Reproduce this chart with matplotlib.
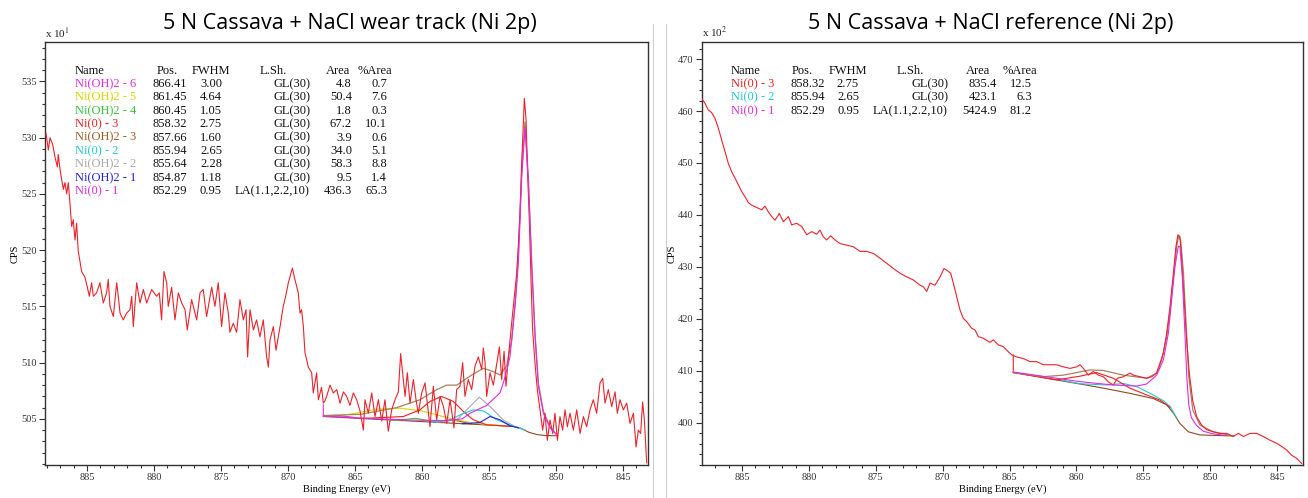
import numpy as np
import matplotlib
matplotlib.use("Agg")
import matplotlib.pyplot as plt
from matplotlib.ticker import MultipleLocator
from matplotlib.lines import Line2D

# ---------------------------------------------------------------------------
# Figure geometry (pixels of the reference picture)
# ---------------------------------------------------------------------------
FIG_W, FIG_H = 1308, 498

plt.rcParams["font.family"] = ["Liberation Serif", "DejaVu Serif"]
plt.rcParams["mathtext.fontset"] = "stix"

# ---------------------------------------------------------------------------
# Wear track spectrum: (binding energy eV, CPS x10)
# ---------------------------------------------------------------------------
WEAR_SPECTRUM = [
    (888.06, 530.4), (887.88, 528.9), (887.76, 530.0), (887.56, 529.4), (887.39, 528.3),
    (887.21, 527.4), (887.14, 528.5), (887.01, 527.2), (886.89, 526.3), (886.76, 525.4),
    (886.64, 526.0), (886.51, 525.0), (886.39, 526.0), (886.27, 524.2), (886.14, 522.1),
    (886.02, 522.7), (885.89, 520.9), (885.77, 522.4), (885.65, 519.9), (885.52, 519.0),
    (885.40, 518.1), (885.15, 517.6), (884.97, 516.7), (884.82, 515.9), (884.65, 517.1),
    (884.52, 515.9), (884.28, 516.2), (884.03, 517.1), (883.78, 515.3), (883.53, 516.2),
    (883.41, 517.4), (883.28, 515.0), (883.03, 514.1), (882.78, 517.1), (882.66, 515.9),
    (882.53, 514.4), (882.29, 513.8), (882.04, 514.4), (881.79, 514.7), (881.66, 515.9),
    (881.54, 513.2), (881.29, 517.1), (881.04, 515.3), (880.79, 516.5), (880.54, 515.3),
    (880.17, 516.5), (879.80, 515.9), (879.60, 516.2), (879.43, 513.8), (879.25, 518.1),
    (879.05, 517.1), (878.93, 515.0), (878.68, 516.7), (878.43, 513.8), (878.18, 516.2),
    (877.93, 515.3), (877.68, 514.7), (877.51, 512.9), (877.19, 515.6), (876.81, 513.8),
    (876.56, 516.2), (876.32, 516.5), (876.07, 514.1), (875.69, 516.7), (875.45, 515.0),
    (875.20, 517.1), (874.95, 513.2), (874.70, 516.2), (874.45, 514.4), (874.33, 512.7),
    (874.08, 513.5), (873.83, 512.7), (873.58, 515.6), (873.33, 513.8), (873.13, 514.7),
    (873.01, 510.5), (872.83, 514.7), (872.58, 512.9), (872.34, 513.8), (872.09, 512.3),
    (871.84, 513.8), (871.59, 510.5), (871.46, 509.6), (871.34, 512.0), (871.09, 513.2),
    (870.89, 511.1), (870.59, 513.2), (870.35, 515.0), (870.17, 515.9), (869.97, 517.1),
    (869.67, 518.4), (869.48, 517.4), (869.23, 516.2), (869.10, 514.4), (868.98, 514.7),
    (868.85, 513.2), (868.73, 510.9), (868.48, 509.6), (868.23, 509.1), (868.11, 507.3),
    (867.86, 509.1), (867.73, 506.7), (867.49, 507.8), (867.36, 506.4), (867.24, 506.6),
    (867.11, 507.0), (866.86, 508.0), (866.61, 507.3), (866.36, 507.6), (866.11, 506.4),
    (865.86, 507.4), (865.62, 507.0), (865.37, 506.2), (865.12, 507.3), (864.87, 506.7),
    (864.62, 505.7), (864.37, 504.0), (864.25, 506.7), (864.00, 505.5), (863.75, 507.3),
    (863.50, 505.2), (863.25, 506.7), (863.00, 504.8), (862.76, 506.7), (862.51, 503.9),
    (862.26, 505.8), (862.01, 506.7), (861.76, 507.4), (861.59, 510.8), (861.44, 509.1),
    (861.26, 507.0), (861.09, 509.1), (860.89, 506.4), (860.64, 508.5), (860.44, 506.7),
    (860.27, 505.5), (860.02, 507.3), (859.77, 508.2), (859.60, 506.4), (859.40, 504.3),
    (859.15, 507.9), (858.90, 504.9), (858.65, 507.0), (858.40, 506.1), (858.15, 504.6),
    (857.90, 506.7), (857.61, 504.2), (857.41, 507.6), (857.16, 507.9), (856.96, 510.0),
    (856.79, 507.0), (856.54, 508.5), (856.29, 507.6), (856.04, 509.7), (855.79, 510.5),
    (855.54, 509.4), (855.42, 511.3), (855.29, 510.0), (855.17, 507.0), (854.92, 509.1),
    (854.67, 508.0), (854.42, 509.9), (854.22, 511.4), (854.05, 508.5), (853.87, 511.0),
    (853.73, 507.9), (853.55, 510.5), (853.38, 512.6), (853.23, 514.4), (853.10, 515.9),
    (852.93, 517.9), (852.81, 520.3), (852.68, 523.3), (852.56, 527.7), (852.43, 531.3),
    (852.36, 533.5), (852.23, 531.6), (852.13, 527.4), (851.98, 522.4), (851.86, 517.4),
    (851.74, 512.9), (851.56, 509.9), (851.39, 507.6), (851.19, 505.8), (850.99, 504.0),
    (850.82, 505.5), (850.64, 503.1), (850.44, 504.9), (850.24, 503.7), (850.07, 505.5),
    (849.89, 503.1), (849.70, 505.2), (849.50, 504.0), (849.32, 505.8), (849.15, 504.3),
    (848.95, 505.5), (848.70, 504.0), (848.45, 505.8), (848.20, 503.7), (847.95, 505.2),
    (847.71, 504.3), (847.46, 505.8), (847.21, 506.7), (846.96, 505.5), (846.71, 508.2),
    (846.51, 508.6), (846.34, 506.4), (846.09, 507.6), (845.84, 506.1), (845.59, 507.4),
    (845.42, 505.5), (845.22, 506.7), (844.97, 505.8), (844.72, 506.4), (844.47, 504.6),
    (844.22, 505.5), (844.02, 502.5), (843.85, 504.0), (843.68, 503.7), (843.53, 506.5),
    (843.40, 504.9), (843.23, 501.1),
]

# fitted curves
WEAR_BACKGROUND = [(867.36, 505.21), (864.0, 505.0), (860.0, 504.76), (857.0, 504.57),
                   (855.0, 504.45), (853.06, 504.32), (852.6, 504.15), (852.0, 503.8),
                   (851.4, 503.6), (850.8, 503.52), (849.95, 503.5)]
WEAR_ENVELOPE = [(867.36, 505.3), (864.6, 505.4), (861.89, 506.0), (860.15, 506.7),
                 (858.9, 507.6), (858.16, 508.0), (857.4, 508.0), (856.41, 508.8),
                 (855.42, 509.5), (854.67, 509.2), (854.18, 508.9), (853.68, 509.7),
                 (853.3, 512.0), (853.0, 516.0), (852.8, 520.0), (852.56, 527.0),
                 (852.31, 531.4), (852.06, 526.5), (851.81, 519.0), (851.56, 512.6),
                 (851.31, 508.2), (850.94, 505.7), (850.44, 504.3), (849.95, 503.6)]
WEAR_OH6 = [(867.36, 506.25), (867.36, 505.22), (866.41, 505.32), (865.0, 505.12)]
WEAR_OH5 = [(867.0, 505.2), (866.4, 505.27), (864.9, 505.5), (863.4, 505.86),
            (861.64, 505.95), (860.15, 505.74), (858.9, 505.36), (857.66, 504.97),
            (856.41, 504.68), (855.0, 504.48), (853.06, 504.33)]
WEAR_OH4 = [(862.0, 504.87), (860.45, 505.05), (859.0, 504.72)]
WEAR_NI3 = [(864.5, 505.03), (861.39, 505.21), (860.15, 505.8), (859.4, 506.55),
            (858.53, 506.99), (857.66, 506.55), (856.91, 505.66), (856.17, 504.92),
            (855.17, 504.47), (853.93, 504.38), (853.06, 504.32)]
WEAR_OH3 = [(859.0, 504.72), (857.66, 504.9), (856.3, 504.55)]
WEAR_NI2 = [(859.4, 504.68), (857.91, 504.9), (857.16, 505.36), (856.17, 505.8),
            (855.42, 505.72), (854.43, 504.92), (853.18, 504.35), (852.3, 504.0)]
WEAR_OH2 = [(858.9, 504.7), (857.41, 504.9), (856.66, 505.8), (855.72, 506.93),
            (854.92, 506.1), (853.93, 504.9), (853.06, 504.32), (852.3, 504.0)]
WEAR_OH1 = [(857.0, 504.57), (856.41, 504.6), (855.67, 504.68), (854.92, 505.21),
            (854.18, 504.92), (853.43, 504.38), (852.8, 504.2)]
WEAR_NI1 = [(867.36, 505.25), (864.0, 505.05), (861.0, 504.9), (858.5, 504.85),
            (857.0, 505.0), (856.41, 505.5), (855.17, 506.2), (854.18, 507.3),
            (853.9, 508.3), (853.43, 510.5), (853.05, 515.0), (852.8, 518.9),
            (852.56, 526.3), (852.31, 530.9), (852.06, 526.0), (851.81, 518.6),
            (851.56, 512.3), (851.31, 507.9), (850.94, 505.5), (850.44, 504.2),
            (849.95, 503.6)]

WEAR_NAMES = ["Ni(OH)2 - 6", "Ni(OH)2 - 5", "Ni(OH)2 - 4", "Ni(0) - 3", "Ni(OH)2 - 3",
              "Ni(0) - 2", "Ni(OH)2 - 2", "Ni(OH)2 - 1", "Ni(0) - 1"]
WEAR_POS = [866.41, 861.45, 860.45, 858.32, 857.66, 855.94, 855.64, 854.87, 852.29]
WEAR_FWHM = [3.00, 4.64, 1.05, 2.75, 1.60, 2.65, 2.28, 1.18, 0.95]
WEAR_LSH = ["GL(30)"] * 8 + ["LA(1.1,2.2,10)"]
WEAR_AREA = [4.8, 50.4, 1.8, 67.2, 3.9, 34.0, 58.3, 9.5, 436.3]
WEAR_PCT = [0.7, 7.6, 0.3, 10.1, 0.6, 5.1, 8.8, 1.4, 65.3]

# ---------------------------------------------------------------------------
# Reference spectrum: (binding energy eV, CPS x100)
# ---------------------------------------------------------------------------
REF_SPECTRUM = [
    (888.01, 462.4), (887.77, 461.5), (887.52, 460.2), (887.27, 459.7), (887.02, 458.6),
    (886.77, 456.7), (886.52, 454.4), (886.27, 452.2), (886.02, 449.9), (885.77, 448.3),
    (885.52, 447.1), (885.27, 445.8), (885.02, 444.5), (884.77, 443.5), (884.53, 442.4),
    (884.28, 441.9), (884.03, 441.6), (883.78, 441.3), (883.53, 441.0), (883.28, 441.7),
    (883.03, 440.6), (882.78, 439.7), (882.53, 439.0), (882.21, 440.3), (881.91, 438.7),
    (881.53, 439.7), (881.29, 438.1), (880.91, 438.4), (880.54, 437.8), (880.16, 436.2),
    (879.79, 436.8), (879.42, 436.3), (879.17, 437.1), (878.92, 435.8), (878.67, 435.2),
    (878.37, 436.0), (878.05, 435.2), (877.67, 434.5), (877.17, 434.2), (876.68, 433.9),
    (876.18, 433.0), (875.68, 433.0), (875.18, 432.6), (874.68, 431.7), (874.18, 430.7),
    (873.68, 429.7), (873.19, 428.8), (872.69, 428.1), (872.19, 427.5), (871.69, 426.5),
    (871.44, 426.2), (871.19, 425.3), (870.94, 426.9), (870.57, 426.5), (870.19, 428.1),
    (869.90, 429.7), (869.65, 429.3), (869.40, 428.8), (869.20, 426.9), (868.95, 424.3),
    (868.70, 421.7), (868.45, 420.1), (868.20, 419.5), (867.83, 418.2), (867.58, 417.9),
    (867.33, 416.6), (866.96, 416.3), (866.46, 415.5), (866.21, 416.0), (865.84, 415.0),
    (865.47, 414.7), (865.09, 413.7), (864.84, 413.1), (864.47, 412.7), (863.97, 412.4),
    (863.47, 411.8), (862.97, 411.8), (862.47, 411.2), (861.98, 411.2), (861.48, 411.2),
    (860.98, 410.8), (860.48, 410.5), (859.98, 410.8), (859.73, 411.2), (859.48, 410.5),
    (859.11, 409.2), (858.74, 409.9), (858.36, 409.2), (857.99, 408.9), (857.61, 407.9),
    (857.24, 407.3), (856.94, 408.6), (856.49, 408.9), (855.99, 409.6), (855.75, 409.2),
    (855.25, 408.9), (854.75, 408.6), (854.37, 408.9), (854.00, 409.6), (853.75, 411.5),
    (853.50, 413.4), (853.25, 417.3), (853.00, 422.4), (852.75, 428.8), (852.56, 433.9),
    (852.41, 436.2), (852.26, 435.8), (852.13, 431.4), (851.96, 424.3), (851.76, 416.0),
    (851.56, 409.6), (851.31, 404.4), (851.01, 401.2), (850.64, 399.6), (850.26, 398.7),
    (849.76, 398.3), (849.27, 398.0), (848.77, 398.0), (848.27, 397.4), (847.89, 398.0),
    (847.52, 397.4), (847.02, 398.0), (846.52, 398.0), (846.03, 397.4), (845.53, 396.7),
    (845.03, 396.1), (844.66, 395.5), (844.28, 394.8), (843.91, 393.8), (843.53, 393.2),
    (843.16, 392.2),
]

REF_BACKGROUND = [(864.72, 409.7), (862.22, 408.6), (859.73, 407.5), (857.99, 406.7),
                  (856.0, 405.7), (854.25, 404.7), (853.25, 403.5), (852.75, 401.9),
                  (852.26, 399.9), (851.63, 398.3), (850.76, 397.7), (848.27, 397.5)]
REF_ENVELOPE = [(864.72, 409.7), (862.5, 408.9), (860.98, 409.2), (858.99, 410.2),
                (857.99, 410.1), (856.49, 409.2), (854.75, 408.6), (854.0, 409.6),
                (853.63, 412.1), (853.25, 416.5), (853.0, 421.5), (852.75, 428.0),
                (852.5, 434.0), (852.35, 436.0), (852.2, 435.0), (852.0, 429.0),
                (851.8, 419.0), (851.6, 409.0), (851.3, 402.5), (850.76, 399.6),
                (849.76, 398.3), (848.27, 397.5)]
REF_NI3 = [(864.72, 413.1), (864.72, 409.7), (861.48, 408.3), (859.73, 409.0),
           (858.49, 409.7), (857.24, 408.6), (856.0, 406.7), (854.75, 405.4),
           (853.75, 404.4), (853.0, 403.0)]
REF_NI2 = [(861.0, 408.2), (859.73, 407.55), (857.74, 407.3), (856.49, 407.6),
           (855.5, 407.0), (854.5, 405.7), (853.5, 404.3), (853.0, 403.2), (852.5, 401.0)]
REF_NI1 = [(864.72, 409.8), (862.0, 408.8), (859.73, 407.95), (857.24, 407.3),
           (855.5, 407.1), (854.75, 407.5), (854.0, 409.2), (853.5, 412.1),
           (853.13, 417.2), (852.88, 423.7), (852.63, 430.1), (852.38, 434.0),
           (852.26, 433.9), (852.08, 428.0), (851.9, 418.0), (851.75, 409.0),
           (851.6, 403.5), (851.4, 401.0), (851.01, 399.5), (850.5, 398.4),
           (849.76, 397.9), (848.77, 397.6)]

REF_NAMES = ["Ni(0) - 3", "Ni(0) - 2", "Ni(0) - 1"]
REF_POS = [858.32, 855.94, 852.29]
REF_FWHM = [2.75, 2.65, 0.95]
REF_LSH = ["GL(30)", "GL(30)", "LA(1.1,2.2,10)"]
REF_AREA = [835.4, 423.1, 5424.9]
REF_PCT = [12.5, 6.3, 81.2]

# component colours (CasaXPS style)
C_MAGENTA = "#e02ce0"
C_YELLOW = "#d8d400"
C_GREEN = "#3cc03c"
C_RED = "#f02020"
C_BROWN = "#a05a24"
C_CYAN = "#22c8d0"
C_GRAY = "#a8a8a8"
C_BLUE = "#2222e0"
C_DATA = "#e8242c"
C_ENVELOPE = "#a8825a"
C_BACKGROUND = "#8c4a22"

WEAR_COLORS = [C_MAGENTA, C_YELLOW, C_GREEN, C_RED, C_BROWN, C_CYAN, C_GRAY, C_BLUE, C_MAGENTA]
REF_COLORS = [C_RED, C_CYAN, C_MAGENTA]


def fig_xy(px, py):
    """Convert reference-picture pixels to figure fraction."""
    return px / FIG_W, 1 - py / FIG_H


def plot_pairs(ax, pairs, color, lw=0.8, z=2):
    e, v = zip(*pairs)
    ax.plot(e, v, color=color, lw=lw, zorder=z)


def style_axes(ax, xlim, ylim, ymajor, yminor, scale_text):
    ax.set_xlim(*xlim)
    ax.set_ylim(*ylim)
    ax.xaxis.set_major_locator(MultipleLocator(5))
    ax.xaxis.set_minor_locator(MultipleLocator(1))
    ax.yaxis.set_major_locator(MultipleLocator(ymajor))
    ax.yaxis.set_minor_locator(MultipleLocator(yminor))
    ax.tick_params(which="both", direction="out", top=False, right=False,
                   colors="#333333", labelsize=7.5, width=0.8, pad=2)
    ax.tick_params(which="major", length=4)
    ax.tick_params(which="minor", length=2.5)
    for sp in ax.spines.values():
        sp.set_color("#333333")
        sp.set_linewidth(1.0)
    ax.set_xlabel("Binding Energy (eV)", fontsize=7.5)
    ax.xaxis.set_label_coords(0.5, -0.045)
    ax.set_ylabel("CPS", fontsize=7.5)
    ax.yaxis.set_label_coords(-0.042, 0.5)
    ax.text(0.0, 1.004, scale_text, transform=ax.transAxes, fontsize=8,
            ha="left", va="bottom", color="#222222")


def draw_table(fig, name_x, head_x, col_right, names, colors, pos, fwhm, lsh, area, pct,
               head_y=70.7, row_y0=84.0, row_dy=13.4):
    fs = 9
    heads = ["Name", "Pos.", "FWHM", "L.Sh.", "Area", "%Area"]
    for hx, h in zip(head_x, heads):
        fig.text(*fig_xy(hx, head_y), h, fontsize=fs, ha="left", va="center", color="#111111")
    for i, name in enumerate(names):
        y = row_y0 + i * row_dy
        fig.text(*fig_xy(name_x, y), name, fontsize=fs, ha="left", va="center", color=colors[i])
        cells = [f"{pos[i]:.2f}", f"{fwhm[i]:.2f}", lsh[i], f"{area[i]:.1f}", f"{pct[i]:.1f}"]
        for cx, c in zip(col_right, cells):
            fig.text(*fig_xy(cx, y), c, fontsize=fs, ha="right", va="center", color="#111111")


def main():
    fig = plt.figure(figsize=(FIG_W / 100, FIG_H / 100), dpi=100)

    bottom = 1 - 465 / FIG_H
    height = (465 - 42) / FIG_H
    ax_l = fig.add_axes([45 / FIG_W, bottom, (648 - 45) / FIG_W, height])
    ax_r = fig.add_axes([702 / FIG_W, bottom, (1303 - 702) / FIG_W, height])

    # --- wear track panel ---
    plot_pairs(ax_l, WEAR_BACKGROUND, C_BACKGROUND)
    for comp, col in [(WEAR_OH5, C_YELLOW), (WEAR_OH4, C_GREEN), (WEAR_OH3, C_BROWN),
                      (WEAR_NI3, C_RED), (WEAR_OH2, C_GRAY), (WEAR_NI2, C_CYAN),
                      (WEAR_OH1, C_BLUE), (WEAR_OH6, C_MAGENTA)]:
        plot_pairs(ax_l, comp, col)
    plot_pairs(ax_l, WEAR_ENVELOPE, C_ENVELOPE, lw=0.9)
    plot_pairs(ax_l, WEAR_SPECTRUM, C_DATA, lw=0.8, z=3)
    plot_pairs(ax_l, WEAR_NI1, C_MAGENTA, lw=0.8, z=4)
    style_axes(ax_l, (888.13, 843.13), (500.9, 538.5), 5, 1, r"x 10$^{1}$")

    # --- reference panel ---
    plot_pairs(ax_r, REF_BACKGROUND, C_BACKGROUND)
    plot_pairs(ax_r, REF_NI2, C_CYAN)
    plot_pairs(ax_r, REF_NI3, C_RED)
    plot_pairs(ax_r, REF_ENVELOPE, C_ENVELOPE, lw=0.9)
    plot_pairs(ax_r, REF_SPECTRUM, C_DATA, lw=0.8, z=3)
    plot_pairs(ax_r, REF_NI1, C_MAGENTA, lw=0.8, z=4)
    style_axes(ax_r, (887.99, 843.06), (391.92, 473.27), 10, 2, r"x 10$^{2}$")

    # --- fit tables ---
    draw_table(fig, 75, [75, 157, 192, 260, 326, 358], [187, 222, 310, 352, 387],
               WEAR_NAMES, WEAR_COLORS, WEAR_POS, WEAR_FWHM, WEAR_LSH, WEAR_AREA, WEAR_PCT)
    draw_table(fig, 731, [731, 792, 829, 897, 966, 1003], [825, 859, 948, 997, 1032],
               REF_NAMES, REF_COLORS, REF_POS, REF_FWHM, REF_LSH, REF_AREA, REF_PCT)

    # --- titles ---
    fig.text(*fig_xy(350, 23), "5 N Cassava + NaCl wear track (Ni 2p)",
             family=["Open Sans", "DejaVu Sans"], fontsize=15.5, ha="center", va="center")
    fig.text(*fig_xy(991, 23), "5 N Cassava + NaCl reference (Ni 2p)",
             family=["Open Sans", "DejaVu Sans"], fontsize=15.5, ha="center", va="center")

    # pasted screenshot edges
    for px in (653, 666):
        fig.add_artist(Line2D([px / FIG_W] * 2, [0, 1 - 24 / FIG_H],
                              transform=fig.transFigure, color="#cfcfcf", lw=0.8))

    fig.savefig("out.png", dpi=100)
    plt.close(fig)


if __name__ == "__main__":
    main()
